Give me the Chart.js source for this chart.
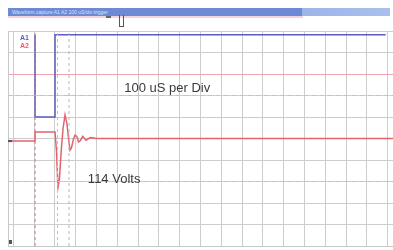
<!DOCTYPE html>
<html>
<head>
<meta charset="utf-8">
<script src="https://cdn.jsdelivr.net/npm/chart.js@4"></script>
<style>
	body { margin: 0; background: #ffffff; width: 393px; height: 250px; overflow: hidden; position: relative; font-family: "Liberation Sans", Arial, sans-serif; }
	#grafico { position: absolute; left: 0; top: 0; }
	#barra { position: absolute; left: 8px; top: 8px; width: 382px; height: 8px; background: linear-gradient(to right, #6d8ad6 0%, #6d8ad6 77%, #9db4e8 77%, #a9bfee 100%); }
	#barra span { position: absolute; left: 4px; top: 1px; font-size: 5px; line-height: 6px; color: #d8e2f8; white-space: nowrap; }
	#rosa { position: absolute; left: 8px; top: 16px; width: 295px; height: 2px; background: #f4d4dc; }
	#marca { position: absolute; left: 119px; top: 15px; width: 3px; height: 11px; border: 1px solid #555; border-top: none; }
	#marcaT { position: absolute; left: 106px; top: 16px; width: 5px; height: 2px; background: #666; }
</style>
</head>
<body>
<div id="barra"><span>Waveform capture  A1  A2  100 uS/div  trigger</span></div>
<div id="rosa"></div>
<div id="marcaT"></div>
<div id="marca"></div>
<canvas id="grafico" width="393" height="250"></canvas>
<script>
// time in microseconds, 100 uS per division
var xDivs = [-100, 0, 100, 200, 300, 400, 500, 600, 700, 800, 900, 1000, 1100, 1200, 1300, 1400, 1500, 1600, 1700];

// red channel (volts)
var rojoTiempo = [-125, 5, 5, 101, 108, 115, 122, 132, 140, 149, 158, 166, 173, 180, 188, 197, 206, 214, 224, 234, 250, 270, 300, 400, 1725];
var rojoVoltios = [-6, -6, 15, 15, -30, -114, -95, -20, 25, 55, 35, 0, -27, -22, -4, 8, 5, -8, -4, 5, -4, 2, 0, 0, 0];

// blue channel (volts)
var azulTiempo = [5, 5, 101, 101, 1690];
var azulVoltios = [241, 50, 50, 241, 241];

// cursors
var cursoresTiempo = [5, 113, 168];
var cursoresColor = ["#e2707c", "#f2aab8", "#b8b8b8"];
var nivelesVoltios = [100, -100];

var textos = [
	["100 uS per Div", 640, 117],
	["114 Volts", 385, -95]
];

function puntos(xs, ys)
{
	var res = [];
	for(i=0; i<xs.length; i++)
		res.push({x: xs[i], y: ys[i]});
	return res;
}

var datasets = [];

for(var c=0; c<cursoresTiempo.length; c++)
{
	datasets.push({
		data: [{x: cursoresTiempo[c], y: -250}, {x: cursoresTiempo[c], y: 250}],
		borderColor: cursoresColor[c],
		borderWidth: 1,
		borderDash: [3, 3],
		pointRadius: 0
	});
}

for(var n=0; n<nivelesVoltios.length; n++)
{
	datasets.push({
		data: [{x: -125, y: nivelesVoltios[n]}, {x: 1725, y: nivelesVoltios[n]}],
		borderColor: n == 0 ? "#e8b0bc" : "#c4c4c4",
		borderWidth: 1,
		borderDash: [4, 4],
		pointRadius: 0
	});
}

datasets.push({
	data: puntos(azulTiempo, azulVoltios),
	borderColor: "#5a5cc0",
	borderWidth: 1.5,
	pointRadius: 0
});

datasets.push({
	data: puntos(rojoTiempo, rojoVoltios),
	borderColor: "#e26470",
	borderWidth: 1.5,
	pointRadius: 0
});

var etiquetas = {
	id: 'etiquetas',
	afterDatasetsDraw: function(chart) {
		var ctx = chart.ctx;
		var xs = chart.scales.x;
		var ys = chart.scales.y;
		ctx.save();
		ctx.font = "13px 'Liberation Sans', Arial, sans-serif";
		ctx.fillStyle = "#3a3a3a";
		ctx.textAlign = "center";
		ctx.textBaseline = "middle";
		for(var t=0; t<textos.length; t++)
			ctx.fillText(textos[t][0], xs.getPixelForValue(textos[t][1]), ys.getPixelForValue(textos[t][2]));

		// channel tags top left
		var a = chart.chartArea;
		ctx.font = "bold 7px 'Liberation Sans', Arial, sans-serif";
		ctx.textAlign = "left";
		ctx.fillStyle = "#5a5cc0";
		ctx.fillText("A1", a.left + 12, a.top + 7);
		ctx.fillStyle = "#e26470";
		ctx.fillText("A2", a.left + 12, a.top + 15);

		// ground marker
		ctx.fillStyle = "#555";
		ctx.fillRect(a.left, ys.getPixelForValue(-6) - 1, 4, 2);
		ctx.fillRect(a.left + 1, a.bottom - 6, 3, 4);
		ctx.restore();
	}
};

var grafico = new Chart(document.getElementById("grafico"), {
	type: 'line',
	data: { datasets: datasets },
	plugins: [etiquetas],
	options: {
		responsive: false,
		animation: false,
		devicePixelRatio: 1,
		layout: { padding: { left: 8, top: 31, right: 0, bottom: 4 } },
		plugins: { legend: { display: false }, tooltip: { enabled: false } },
		elements: { line: { tension: 0 } },
		scales: {
			x: {
				type: 'linear',
				min: -125,
				max: 1725,
				afterBuildTicks: function(s) { s.ticks = xDivs.map(function(v) { return {value: v}; }); },
				ticks: { display: false },
				grid: { color: "#cdcdcd", lineWidth: 1, drawTicks: false },
				border: { display: true, color: "#c8c8c8" }
			},
			y: {
				type: 'linear',
				min: -250,
				max: 250,
				ticks: { display: false, stepSize: 50 },
				grid: {
					color: function(ctx) { return ctx.tick && ctx.tick.value == 150 ? "#f0a4b0" : "#cdcdcd"; },
					lineWidth: 1,
					drawTicks: false
				},
				border: { display: true, color: "#c8c8c8" }
			}
		}
	}
});
</script>
</body>
</html>
